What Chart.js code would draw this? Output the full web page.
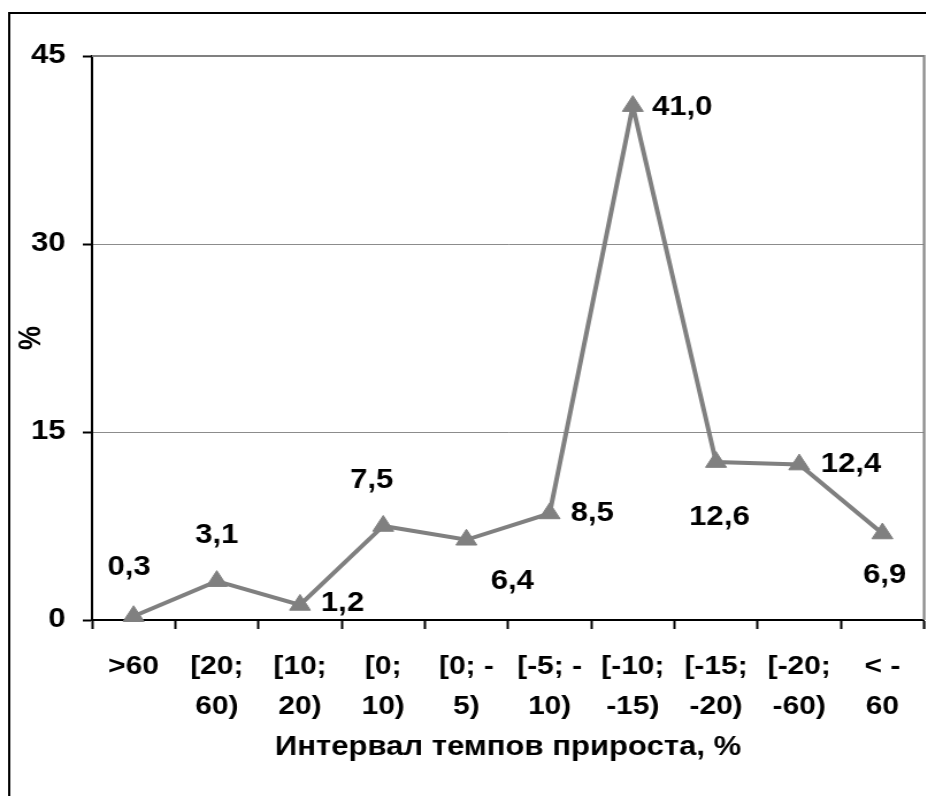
<!DOCTYPE html>
<html>
<head>
<meta charset="utf-8">
<script src="https://cdn.jsdelivr.net/npm/chart.js@4.4.1/dist/chart.umd.min.js"></script>
<style>
  html, body { margin: 0; padding: 0; background: #fff; overflow: hidden; }
  /* the chart is laid out a bit narrower and stretched sideways, as in the printed figure */
  #wrap { width: 805px; height: 796px; transform: scaleX(1.15); transform-origin: 0 0; }
</style>
</head>
<body>
<div id="wrap"><canvas id="growth" width="805" height="796"></canvas></div>
<script>
// growth-rate intervals and share of units in each, %
var categories = ['>60', ['[20;', '60)'], ['[10;', '20)'], ['[0;', '10)'], ['[0; -', '5)'],
                  ['[-5; -', '10)'], ['[-10;', '-15)'], ['[-15;', '-20)'], ['[-20;', '-60)'], ['< -', '60']];
var shares = [0.3, 3.1, 1.2, 7.5, 6.4, 8.5, 41.0, 12.6, 12.4, 6.9];
var yTicks = [0, 15, 30, 45];

// where each value label sits relative to its point (dx, dy)
var labelOffsets = [[-4, -49], [0, -46], [37, -1], [-10, -45], [40, 42],
                    [37, 0], [43, 1], [3, 55], [45, 0], [2, 42]];

Chart.defaults.font.family = "'Liberation Sans', Arial, sans-serif";
Chart.defaults.color = '#000';

var fmt = function (v) { return v.toFixed(1).replace('.', ','); };

var frame = {
  id: 'frame',
  afterDraw: function (chart) {
    var c = chart.ctx;
    c.save();
    // outer box
    c.strokeStyle = '#000';
    c.lineWidth = 2;
    c.beginPath();
    c.moveTo(8, chart.height);
    c.lineTo(8, 13);
    c.lineTo(chart.width, 13);
    c.stroke();
    c.restore();
  },
  beforeDatasetsDraw: function (chart) {
    var c = chart.ctx, a = chart.chartArea;
    c.save();
    c.strokeStyle = '#808080';
    c.lineWidth = 2;
    c.beginPath();
    c.moveTo(a.left, a.top);
    c.lineTo(a.right, a.top);
    c.lineTo(a.right, a.bottom);
    c.stroke();
    c.restore();
  }
};

var valueLabels = {
  id: 'valueLabels',
  afterDatasetsDraw: function (chart) {
    var c = chart.ctx;
    var pts = chart.getDatasetMeta(0).data;
    c.save();
    c.font = "bold 27px 'Liberation Sans', Arial, sans-serif";
    c.fillStyle = '#000';
    c.textAlign = 'center';
    c.textBaseline = 'middle';
    pts.forEach(function (p, i) {
      c.fillText(fmt(shares[i]), p.x + labelOffsets[i][0], p.y + labelOffsets[i][1]);
    });
    c.restore();
  }
};

new Chart(document.getElementById('growth').getContext('2d'), {
  type: 'line',
  data: {
    labels: categories,
    datasets: [{
      data: shares,
      borderColor: '#808080',
      borderWidth: 4,
      tension: 0,
      pointStyle: 'triangle',
      pointRadius: 10.5,
      pointHoverRadius: 10.5,
      pointBackgroundColor: '#808080',
      pointBorderColor: '#808080',
      pointBorderWidth: 1,
      clip: false
    }]
  },
  options: {
    responsive: false,
    animation: false,
    events: [],
    layout: { autoPadding: false, padding: { top: 56, right: 1.5, left: 0, bottom: 0 } },
    plugins: { legend: { display: false }, tooltip: { enabled: false } },
    scales: {
      x: {
        offset: true,
        grid: {
          offset: true,
          drawOnChartArea: false,
          drawTicks: true,
          tickLength: 9,
          tickColor: '#000',
          tickWidth: 2
        },
        border: { color: '#000', width: 2 },
        ticks: {
          maxRotation: 0,
          autoSkip: false,
          padding: 18,
          font: { size: 26, weight: 'bold', lineHeight: '40px' }
        },
        title: {
          display: true,
          text: 'Интервал темпов прироста, %',
          font: { size: 27, weight: 'bold', lineHeight: 1.2 },
          padding: { top: 0, bottom: 32 }
        },
        afterFit: function (s) {
          s.height = 176;
          s.paddingLeft = 0;
          s.paddingRight = 0;
        }
      },
      y: {
        min: 0,
        max: 45,
        afterBuildTicks: function (s) {
          s.ticks = yTicks.map(function (v) { return { value: v }; });
        },
        grid: {
          color: function (ctx) {
            var v = ctx.tick ? ctx.tick.value : 0;
            return (v === 0 || v === 45) ? 'rgba(0,0,0,0)' : '#8c8c8c';
          },
          lineWidth: 1,
          tickLength: 8,
          tickColor: '#000',
          tickWidth: 2
        },
        border: { color: '#000', width: 2 },
        ticks: {
          padding: 15,
          font: { size: 27, weight: 'bold' }
        },
        title: {
          display: true,
          text: '%',
          font: { size: 27, weight: 'bold', lineHeight: 1.2 },
          padding: { top: 11, bottom: 0 }
        },
        afterFit: function (s) { s.width = 80; }
      }
    }
  },
  plugins: [frame, valueLabels]
});
</script>
</body>
</html>
